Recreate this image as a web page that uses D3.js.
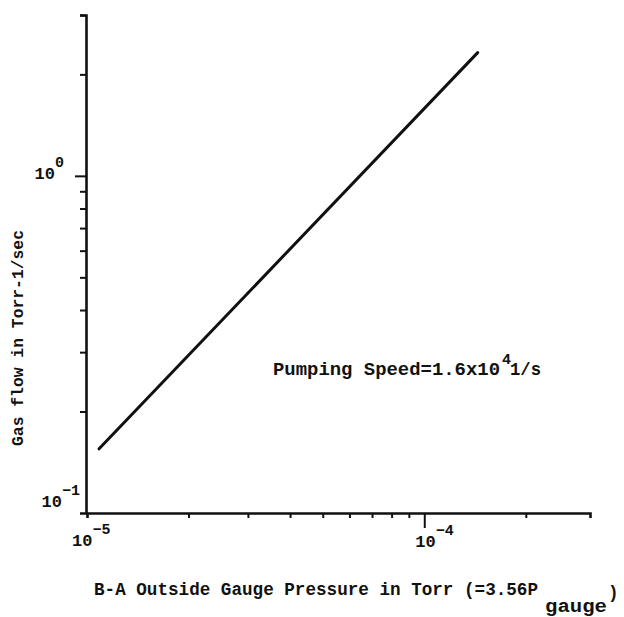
<!DOCTYPE html>
<html>
<head>
<meta charset="utf-8">
<script src="https://cdn.jsdelivr.net/npm/d3@7/dist/d3.min.js"></script>
<style>
  html, body { margin: 0; padding: 0; background: #fff; }
  svg text { font-family: "Liberation Mono", "DejaVu Sans Mono", monospace; fill: #111; }
</style>
</head>
<body>
<svg id="chart" width="624" height="617"></svg>
<script>
// Measured gas flow through the outside gauge: straight line on log-log axes
const pressure = [1.086e-5, 1.44e-4];      // Torr
const gasFlow  = [0.155, 2.32];            // Torr-l/sec

// Axis tick positions
const xMinorTicks = [2e-5, 3e-5, 4e-5, 5e-5, 6e-5, 7e-5, 8e-5, 9e-5, 2e-4];
const xMajorTicks = [1e-4];
const yMinorTicks = [0.2, 0.3, 0.4, 0.5, 0.6, 0.7, 0.8, 0.9, 2, 3];
const yMajorTicks = [1];
const xTickLabels = [{v: 1e-5, base: "10", exp: "\u22125", dx: -15, dy: 33}, {v: 1e-4, base: "10", exp: "\u22124", dx: -9, dy: 34}];
const yTickLabels = [{v: 0.1, base: "10", exp: "\u22121", right: 80, dy: -6}, {v: 1, base: "10", exp: "0", right: 64, dy: 3}];

const svg = d3.select("#chart");
const ink = "#111";

const x = d3.scaleLog().domain([1e-5, 3.1e-4]).range([87, 590]);
const y = d3.scaleLog().domain([0.1, 3]).range([513, 15]);

// x axis
const xAxisG = svg.append("g").attr("transform", `translate(0,${y(0.1)})`);
xAxisG.call(d3.axisBottom(x).tickValues(xMinorTicks.concat(xMajorTicks)).tickFormat("").tickSizeOuter(0).tickSize(5));
xAxisG.selectAll(".tick line").filter(d => xMajorTicks.includes(d)).attr("y2", 15);
xAxisG.select(".domain").attr("stroke-width", 2.6).attr("stroke", ink);
xAxisG.selectAll(".tick line").attr("stroke-width", 2).attr("stroke", ink);

// y axis
const yAxisG = svg.append("g").attr("transform", `translate(${x(1e-5) - 1},0)`);
yAxisG.call(d3.axisLeft(y).tickValues(yMinorTicks.concat(yMajorTicks)).tickFormat("").tickSizeOuter(0).tickSize(6));
yAxisG.selectAll(".tick line").filter(d => yMajorTicks.includes(d)).attr("x2", -11);
yAxisG.select(".domain").attr("stroke-width", 2.6).attr("stroke", ink);
yAxisG.selectAll(".tick line").attr("stroke-width", 2).attr("stroke", ink);

// power-of-ten labels
function powerLabel(px, py, base, exp, anchor) {
  const t = svg.append("text").attr("x", px).attr("y", py)
    .attr("text-anchor", anchor).attr("font-weight", "bold").attr("font-size", 17);
  t.append("tspan").text(base);
  t.append("tspan").attr("dy", -12).attr("font-size", 15).text(exp);
  return t;
}
xTickLabels.forEach(d => powerLabel(x(d.v) + d.dx, y(0.1) + d.dy, d.base, d.exp, "start"));
yTickLabels.forEach(d => powerLabel(d.right, y(d.v) + d.dy, d.base, d.exp, "end"));

// data line
const line = d3.line().x((d, i) => x(pressure[i])).y(d => y(d));
svg.append("path").datum(gasFlow)
  .attr("d", line)
  .attr("fill", "none").attr("stroke", ink).attr("stroke-width", 3).attr("stroke-linecap", "round");

// free-standing text pieces
function label(txt, px, py, size, len) {
  const t = svg.append("text").attr("x", px).attr("y", py).attr("font-size", size)
    .attr("font-weight", "bold").text(txt);
  if (len) t.attr("textLength", len).attr("lengthAdjust", "spacingAndGlyphs");
  return t;
}

// annotation
label("Pumping Speed=1.6x10", 273, 375, 18.5, 227);
label("4", 502, 364, 15, 0);
label("1/s", 510, 375, 18.5, 31);

// axis titles
label("B-A Outside Gauge Pressure in Torr (=3.56P", 94, 595, 17.5, 444);
label("gauge", 545, 612, 17.5, 62);
label(")", 608, 598, 17.5, 0);

svg.append("text")
  .attr("transform", "translate(23,338) rotate(-90)")
  .attr("text-anchor", "middle").attr("font-size", 16.5).attr("font-weight", "bold")
  .attr("textLength", 216).attr("lengthAdjust", "spacingAndGlyphs")
  .text("Gas flow in Torr-1/sec");
</script>
</body>
</html>
